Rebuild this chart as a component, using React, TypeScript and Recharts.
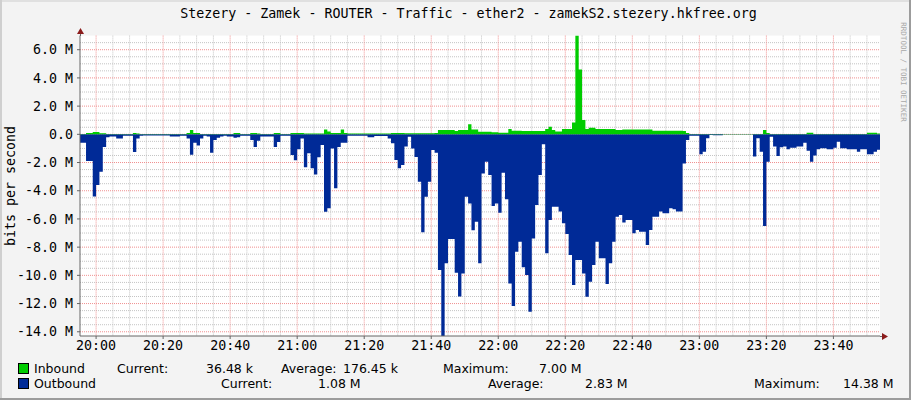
import { ComposedChart, Area, XAxis, YAxis, CartesianGrid } from 'recharts';

// minutes relative to 20:00, one sample per minute, first one at 19:55
const startMinute = -5;

// bits per second, in millions (M); outbound drawn below zero
const outbound = [
  -0.6, -0.6, -1.9, -1.9, -4.4, -3.6, -2.65, -0.9, -0.2, -0.15,
  -0.15, -0.3, -0.3, -0.1, -0.1, -0.1, -1.25, -0.3, -0.1, -0.08,
  -0.08, -0.08, -0.08, -0.08, -0.08, -0.08, -0.08, -0.15, -0.15, -0.15,
  -0.1, -0.1, -0.3, -1.45, -0.6, -0.8, -0.3, -0.1, -0.15, -1.3,
  -0.4, -0.25, -0.15, -0.1, -0.15, -0.15, -0.25, -0.2, -0.1, -0.1,
  -0.1, -0.4, -0.9, -0.45, -0.15, -0.15, -0.15, -0.15, -0.9, -0.55,
  -0.1, -0.1, -0.1, -1.47, -1.83, -1.06, -0.3, -2.34, -1.35, -2.41,
  -2.84, -1.63, -0.75, -5.49, -5.25, -1.0, -3.83, -0.9, -0.6, -0.6,
  -0.1, -0.1, -0.1, -0.1, -0.1, -0.1, -0.2, -0.2, -0.12, -0.12,
  -0.12, -0.12, -0.3, -0.64, -1.82, -2.41, -2.17, -0.87, -0.17, -1.0,
  -1.6, -3.36, -6.95, -4.42, -3.36, -1.11, -1.3, -9.62, -14.38, -9.15,
  -7.42, -7.42, -9.81, -11.5, -9.86, -4.42, -4.9, -6.8, -6.2, -9.15,
  -2.77, -1.94, -2.88, -5.08, -4.9, -5.56, -2.72, -4.61, -10.57, -12.17,
  -8.32, -7.61, -9.43, -9.98, -12.58, -7.38, -5.01, -2.88, -0.71, -8.44,
  -6.08, -5.13, -5.13, -5.48, -6.31, -7.07, -8.56, -10.69, -8.91, -8.91,
  -9.86, -11.51, -10.45, -9.27, -7.61, -8.79, -8.79, -10.61, -9.15, -7.61,
  -5.84, -5.72, -6.26, -6.08, -6.08, -7.02, -6.78, -6.9, -6.9, -7.85,
  -6.78, -5.84, -5.84, -5.48, -5.6, -5.6, -5.25, -5.32, -5.48, -5.48,
  -2.06, -0.4, -0.1, -0.1, -0.1, -1.42, -1.23, -0.28, -0.05, -0.07,
  -0.07, -0.07, -0.02, -0.02, -0.02, -0.02, -0.02, -0.02, -0.02, -0.02,
  -0.02, -1.58, -0.28, -1.23, -6.5, -1.94, -0.17, -0.87, -1.54, -0.92,
  -0.87, -1.06, -0.95, -0.95, -0.87, -0.87, -0.6, -1.16, -1.94, -1.5,
  -1.06, -0.99, -0.99, -1.06, -1.06, -0.95, -0.52, -0.99, -0.99, -1.06,
  -1.06, -1.06, -1.23, -1.06, -1.06, -1.42, -1.42, -1.23, -1.1, -1.1,
];

const inbound = [
  0.03, 0.03, 0.1, 0.1, 0.17, 0.17, 0.07, 0.07, 0.02, 0.02,
  0.02, 0.02, 0.02, 0.02, 0.02, 0.02, 0.1, 0.05, 0.02, 0.02,
  0.02, 0.02, 0.02, 0.02, 0.02, 0.02, 0.02, 0.02, 0.02, 0.02,
  0.02, 0.02, 0.1, 0.3, 0.1, 0.1, 0.02, 0.02, 0.02, 0.02,
  0.02, 0.02, 0.02, 0.02, 0.02, 0.02, 0.1, 0.1, 0.02, 0.02,
  0.02, 0.1, 0.1, 0.05, 0.02, 0.02, 0.02, 0.02, 0.1, 0.1,
  0.02, 0.02, 0.02, 0.1, 0.1, 0.1, 0.1, 0.05, 0.05, 0.05,
  0.05, 0.05, 0.05, 0.35, 0.2, 0.1, 0.1, 0.1, 0.35, 0.1,
  0.05, 0.05, 0.05, 0.05, 0.05, 0.05, 0.05, 0.05, 0.05, 0.05,
  0.05, 0.05, 0.05, 0.1, 0.1, 0.1, 0.1, 0.07, 0.07, 0.07,
  0.07, 0.07, 0.07, 0.07, 0.07, 0.07, 0.1, 0.31, 0.31, 0.31,
  0.31, 0.31, 0.24, 0.3, 0.3, 0.3, 0.71, 0.35, 0.35, 0.19,
  0.19, 0.19, 0.19, 0.14, 0.14, 0.12, 0.12, 0.12, 0.38, 0.26,
  0.26, 0.26, 0.24, 0.24, 0.24, 0.24, 0.24, 0.24, 0.24, 0.38,
  0.54, 0.31, 0.2, 0.2, 0.38, 0.38, 0.38, 0.83, 7.0, 4.6,
  1.02, 0.38, 0.47, 0.47, 0.38, 0.38, 0.38, 0.38, 0.38, 0.38,
  0.31, 0.31, 0.35, 0.35, 0.35, 0.35, 0.35, 0.35, 0.35, 0.35,
  0.35, 0.26, 0.26, 0.26, 0.26, 0.26, 0.26, 0.26, 0.26, 0.26,
  0.24, 0.1, 0.02, 0.02, 0.02, 0.02, 0.02, 0.02, 0.02, 0.02,
  0.02, 0.02, 0.02, 0.02, 0.02, 0.02, 0.02, 0.02, 0.02, 0.02,
  0.02, 0.02, 0.02, 0.02, 0.3, 0.1, 0.02, 0.02, 0.02, 0.02,
  0.02, 0.02, 0.02, 0.02, 0.02, 0.02, 0.02, 0.12, 0.12, 0.03,
  0.03, 0.03, 0.03, 0.03, 0.03, 0.03, 0.03, 0.03, 0.03, 0.03,
  0.03, 0.03, 0.03, 0.03, 0.03, 0.12, 0.12, 0.12, 0.05, 0.05,
];

const timeTicks = [0, 20, 40, 60, 80, 100, 120, 140, 160, 180, 200, 220];
const timeLabels = ['20:00', '20:20', '20:40', '21:00', '21:20', '21:40', '22:00', '22:20', '22:40', '23:00', '23:20', '23:40'];
const valueTicks = [-14, -12, -10, -8, -6, -4, -2, 0, 2, 4, 6];
const valueLabels = ['-14.0 M', '-12.0 M', '-10.0 M', '-8.0 M', '-6.0 M', '-4.0 M', '-2.0 M', '0.0', '2.0 M', '4.0 M', '6.0 M'];

const data = outbound.map((v, i) => ({ t: startMinute + i, outbound: v, inbound: inbound[i] }));

// grid: minor every 5 min / 0.5 M, major on the labelled ticks
const minorTime: number[] = [];
for (let m = 0; m <= 230; m += 5) minorTime.push(m);
const minorValue: number[] = [];
for (let v = -14; v <= 6.5; v += 0.5) minorValue.push(v);

const MONO = '"DejaVu Sans Mono", monospace';
const LEGEND = '"DejaVu Sans", sans-serif';
const txt = (left: number, top: number, s: string) => (
  <div style={{ position: 'absolute', left, top, fontFamily: LEGEND, fontSize: 12.5, lineHeight: '15px', whiteSpace: 'pre', color: '#000' }}>{s}</div>
);

export default function App() {
  return (
    <div style={{ position: 'absolute', left: 0, top: 0, width: 911, height: 400, background: '#f3f3f3', overflow: 'hidden' }}>
      <div style={{ position: 'absolute', left: 0, top: 0, width: 911, height: 2, background: '#e0e0e0' }} />
      <div style={{ position: 'absolute', left: 0, top: 0, width: 2, height: 400, background: '#cfcfcf' }} />
      <div style={{ position: 'absolute', right: 0, top: 0, width: 2, height: 400, background: '#9c9c9c' }} />
      <div style={{ position: 'absolute', left: 0, bottom: 0, width: 911, height: 2, background: '#9c9c9c' }} />

      <div style={{ position: 'absolute', left: 13, top: 6, width: 911, textAlign: 'center', fontFamily: MONO, fontSize: 13.3, whiteSpace: 'pre' }}>
        Stezery - Zamek - ROUTER - Traffic - ether2 - zamekS2.stezery.hkfree.org
      </div>

      <div style={{ position: 'absolute', left: 10, top: 186, transform: 'translate(-50%, -50%) rotate(-90deg)', fontFamily: MONO, fontSize: 13.3, whiteSpace: 'pre' }}>
        bits per second
      </div>

      <div style={{ position: 'absolute', left: 903, top: 72, transform: 'translate(-50%, -50%) rotate(90deg)', fontFamily: MONO, fontSize: 7.5, color: '#a8a8a8', whiteSpace: 'pre' }}>
        RRDTOOL / TOBI OETIKER
      </div>

      <div style={{ position: 'absolute', left: 0, top: 0 }}>
        <ComposedChart width={911} height={400} data={data} margin={{ top: 35.6, right: 31, bottom: 34, left: 0 }}>
          <CartesianGrid horizontalValues={minorValue} verticalValues={minorTime} stroke="#c4c4c4" strokeDasharray="1 1" fill="#ffffff" fillOpacity={1} />
          <CartesianGrid horizontalValues={valueTicks} verticalValues={timeTicks} stroke="#f09090" strokeDasharray="1 1" />
          <XAxis
            dataKey="t"
            type="number"
            domain={[-4.8, 233.9]}
            allowDataOverflow
            ticks={timeTicks}
            tickFormatter={(v: number) => timeLabels[timeTicks.indexOf(v)]}
            height={30}
            tickSize={3}
            tickMargin={2}
            axisLine={{ stroke: '#666666' }}
            tickLine={{ stroke: '#666666' }}
            tick={{ fill: '#000', fontFamily: MONO, fontSize: 13.3 }}
          />
          <YAxis
            type="number"
            domain={[-14.3, 7.0]}
            allowDataOverflow
            ticks={valueTicks}
            tickFormatter={(v: number) => valueLabels[valueTicks.indexOf(v)]}
            width={80}
            tickSize={3}
            tickMargin={4}
            axisLine={{ stroke: '#666666' }}
            tickLine={{ stroke: '#666666' }}
            tick={{ fill: '#000', fontFamily: MONO, fontSize: 13.3 }}
          />
          <Area type="stepAfter" dataKey="outbound" baseValue={0} stroke="none" fill="#002a97" fillOpacity={1} isAnimationActive={false} dot={false} activeDot={false} />
          <Area type="stepAfter" dataKey="inbound" baseValue={0} stroke="none" fill="#00cc00" fillOpacity={1} isAnimationActive={false} dot={false} activeDot={false} />
        </ComposedChart>
      </div>

      {/* axis extensions and arrow heads */}
      <svg style={{ position: 'absolute', left: 0, top: 0 }} width={911} height={400}>
        <line x1={80.5} y1={36} x2={80.5} y2={30} stroke="#666666" />
        <line x1={880} y1={336.5} x2={884} y2={336.5} stroke="#666666" />
        <polygon points="77,34 84,34 80.5,28" fill="#8b1c1c" />
        <polygon points="882,333 882,340 888,336.5" fill="#8b1c1c" />
      </svg>

      <div style={{ position: 'absolute', left: 18, top: 363, width: 9, height: 9, background: '#00cc00', border: '1px solid #000' }} />
      <div style={{ position: 'absolute', left: 18, top: 378, width: 9, height: 9, background: '#002a97', border: '1px solid #000' }} />
      {txt(34, 361, 'Inbound')}
      {txt(117, 361, 'Current:')}
      {txt(206, 361, '36.48 k')}
      {txt(281, 361, 'Average:')}
      {txt(343, 361, '176.45 k')}
      {txt(443, 361, 'Maximum:')}
      {txt(539, 361, '7.00 M')}
      {txt(34, 376, 'Outbound')}
      {txt(221, 376, 'Current:')}
      {txt(318, 376, '1.08 M')}
      {txt(488, 376, 'Average:')}
      {txt(585, 376, '2.83 M')}
      {txt(754, 376, 'Maximum:')}
      {txt(843, 376, '14.38 M')}
    </div>
  );
}
